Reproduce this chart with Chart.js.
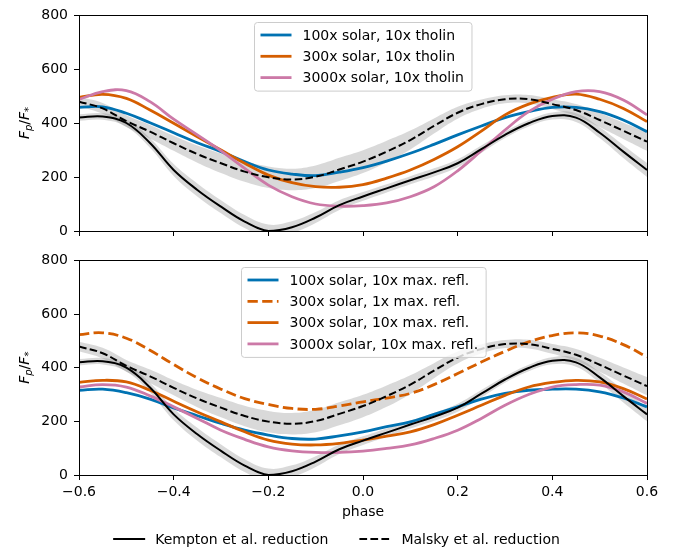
<!DOCTYPE html>
<html>
<head>
<meta charset="utf-8">
<script src="https://cdn.jsdelivr.net/npm/chart.js@4.4.0/dist/chart.umd.min.js"></script>
<style>
  body { margin: 0; background: #fff; }
  #wrap { position: relative; width: 673px; height: 550px; }
  #topChart { position: absolute; left: 0; top: 0; width: 673px; height: 246px; }
  #bottomChart { position: absolute; left: 0; top: 246px; width: 673px; height: 304px; }
</style>
</head>
<body>
<div id="wrap">
  <canvas id="topChart" width="673" height="246"></canvas>
  <canvas id="bottomChart" width="673" height="304"></canvas>
</div>
<script>
// orbital phase grid shared by every curve
var phase = [-0.6, -0.55, -0.5, -0.45, -0.4, -0.35, -0.3, -0.25, -0.2, -0.15, -0.1, -0.05,
  0, 0.05, 0.1, 0.15, 0.2, 0.25, 0.3, 0.35, 0.4, 0.45, 0.5, 0.55, 0.6]
var phaseTicks = [-0.6, -0.4, -0.2, 0, 0.2, 0.4, 0.6]
var fluxTicks = [0, 200, 400, 600, 800]

// observed phase curves (two reductions) and their 1-sigma widths
var kempton = [420, 424, 400, 326, 226, 152, 90, 35, 0, 14, 50, 96,
  128, 158, 188, 217, 251, 303, 356, 399, 426, 420, 364, 294, 226]
var kemptonErr = [12, 12, 14, 18, 22, 24, 24, 24, 24, 22, 20, 18,
  16, 15, 15, 15, 15, 14, 12, 12, 13, 16, 20, 24, 26]
var malsky = [479, 454, 407, 368, 325, 285, 251, 220, 199, 191, 201, 228,
  257, 294, 337, 389, 438, 470, 488, 488, 470, 448, 411, 371, 331]
var malskyErr = [18, 20, 22, 25, 28, 32, 36, 38, 40, 40, 42, 43,
  42, 40, 35, 28, 22, 17, 15, 16, 18, 22, 26, 30, 34]

// models with 10x tholin hazes
var tholin100 = [458, 460, 436, 401, 364, 327, 294, 257, 226, 211, 205, 218,
  235, 259, 288, 321, 356, 389, 420, 442, 458, 458, 442, 411, 368]
var tholin300 = [495, 506, 491, 448, 399, 349, 300, 251, 207, 179, 164, 162,
  172, 196, 226, 265, 312, 370, 430, 470, 495, 507, 488, 454, 405]
var tholin3000 = [487, 516, 520, 479, 414, 356, 297, 232, 170, 127, 100, 92,
  94, 104, 127, 164, 223, 297, 374, 442, 488, 516, 516, 485, 430]

// models with maximally reflective hazes
var refl100 = [316, 320, 307, 283, 250, 221, 192, 167, 149, 136, 134, 146,
  161, 180, 198, 226, 254, 283, 304, 316, 320, 320, 310, 287, 254]
var refl300x1 = [523, 530, 510, 465, 412, 362, 320, 285, 263, 248, 245, 257,
  273, 287, 304, 337, 378, 421, 461, 496, 520, 530, 518, 486, 440]
var refl300 = [345, 353, 347, 316, 275, 235, 198, 161, 130, 115, 112, 118,
  130, 145, 161, 188, 223, 260, 297, 328, 345, 353, 347, 322, 283]
var refl3000 = [328, 337, 328, 295, 254, 211, 167, 133, 105, 90, 84, 84,
  89, 99, 112, 136, 167, 211, 260, 300, 328, 337, 335, 310, 267]

var blue = '#0072B2'
var orange = '#D55E00'
var pink = '#CC79A7'
var bandColor = 'rgba(130,130,130,0.3)'
var FONT = "'DejaVu Sans'"

Chart.defaults.color = '#000'
Chart.defaults.font.family = FONT
Chart.defaults.font.size = 14

function pts(values) {
  return values.map(function (v, i) {
    return { x: phase[i], y: v }
  })
}

function shifted(values, err, sign) {
  return values.map(function (v, i) {
    return { x: phase[i], y: v + sign * err[i] }
  })
}

// grey uncertainty bands go first so '+1' fills point at their lower edge
function bandSets() {
  return [
    { data: shifted(kempton, kemptonErr, 1), fill: '+1', backgroundColor: bandColor, borderWidth: 0, order: 20 },
    { data: shifted(kempton, kemptonErr, -1), fill: false, borderWidth: 0, order: 20 },
    { data: shifted(malsky, malskyErr, 1), fill: '+1', backgroundColor: bandColor, borderWidth: 0, order: 20 },
    { data: shifted(malsky, malskyErr, -1), fill: false, borderWidth: 0, order: 20 },
  ]
}

function refSets() {
  return [
    { label: 'Kempton et al. reduction', data: pts(kempton), borderColor: '#000', borderWidth: 2, fill: false, order: 1 },
    { label: 'Malsky et al. reduction', data: pts(malsky), borderColor: '#000', borderWidth: 2, borderDash: [7.7, 3.3], fill: false, order: 1 },
  ]
}

function modelLine(label, values, color, order, dash) {
  return {
    label: label,
    data: pts(values),
    borderColor: color,
    borderWidth: 2.8,
    borderDash: dash || [],
    fill: false,
    order: order,
    legendRow: true,
  }
}

function fmtPhase(v) {
  var s = Math.abs(v).toFixed(1)
  return v < -1e-9 ? '\u2212' + s : s
}

// F_p/F_* with italic F's and small subscripts, rotated along the axis
function drawYLabel(ctx, x, y) {
  var parts = [
    ['F', 'italic 14px ' + FONT, 0],
    ['p', 'italic 10px ' + FONT, 3],
    ['/', '14px ' + FONT, 0],
    ['F', 'italic 14px ' + FONT, 0],
    ['*', '10px ' + FONT, 3],
  ]
  var total = 0
  parts.forEach(function (p) {
    ctx.font = p[1]
    p.push(ctx.measureText(p[0]).width)
    total += p[3]
  })
  ctx.save()
  ctx.translate(x, y)
  ctx.rotate(-Math.PI / 2)
  ctx.fillStyle = '#000'
  ctx.textBaseline = 'alphabetic'
  ctx.textAlign = 'left'
  var cx = -total / 2
  parts.forEach(function (p) {
    ctx.font = p[1]
    ctx.fillText(p[0], cx, p[2])
    cx += p[3]
  })
  ctx.restore()
}

function drawHandle(ctx, x1, x2, y, ds) {
  ctx.save()
  ctx.strokeStyle = ds.borderColor
  ctx.lineWidth = ds.borderWidth
  ctx.setLineDash(ds.borderDash || [])
  ctx.beginPath()
  ctx.moveTo(x1, y)
  ctx.lineTo(x2, y)
  ctx.stroke()
  ctx.restore()
}

// framed legend at the upper centre of the axes
function drawBoxLegend(chart) {
  var ctx = chart.ctx
  var area = chart.chartArea
  var sets = chart.data.datasets.filter(function (d) { return d.legendRow })
  ctx.save()
  ctx.font = '14px ' + FONT
  var textW = 0
  sets.forEach(function (d) {
    textW = Math.max(textW, ctx.measureText(d.label).width)
  })
  var pad = 6, handle = 31, gap = 11, rowH = 21.3
  var w = pad + handle + gap + textW + pad + 2
  var h = 12.5 + (sets.length - 1) * rowH + 13.5
  var left = Math.round((area.left + area.right) / 2 - w / 2) + 0.5
  var top = Math.round(area.top + 7) + 0.5
  ctx.beginPath()
  ctx.roundRect(left, top, w, h, 3)
  ctx.fillStyle = 'rgba(255,255,255,0.8)'
  ctx.fill()
  ctx.strokeStyle = '#cccccc'
  ctx.lineWidth = 1
  ctx.stroke()
  sets.forEach(function (d, i) {
    var y = top + 12.5 + i * rowH
    drawHandle(ctx, left + pad, left + pad + handle, y, d)
    ctx.fillStyle = '#000'
    ctx.textBaseline = 'middle'
    ctx.textAlign = 'left'
    ctx.fillText(d.label, left + pad + handle + gap, y + 1)
  })
  ctx.restore()
}

// x title and the legend for the two reductions, under the lower panel
function drawFooter(chart) {
  var ctx = chart.ctx
  var area = chart.chartArea
  var refs = chart.data.datasets.filter(function (d) { return d.label && !d.legendRow })
  ctx.save()
  ctx.font = '14px ' + FONT
  ctx.fillStyle = '#000'
  ctx.textBaseline = 'middle'
  ctx.textAlign = 'center'
  ctx.fillText('phase', (area.left + area.right) / 2, area.bottom + 37)

  var handle = 32, gap = 10, colGap = 31
  var total = 0
  refs.forEach(function (d, i) {
    total += handle + gap + ctx.measureText(d.label).width + (i ? colGap : 0)
  })
  var x = chart.width / 2 - total / 2
  var y = area.bottom + 64
  ctx.textAlign = 'left'
  refs.forEach(function (d) {
    drawHandle(ctx, x, x + handle, y, d)
    ctx.fillStyle = '#000'
    ctx.fillText(d.label, x + handle + gap, y + 1)
    x += handle + gap + ctx.measureText(d.label).width + colGap
  })
  ctx.restore()
}

var panelDecor = {
  id: 'panelDecor',
  afterDatasetsDraw: function (chart, args, opts) {
    var ctx = chart.ctx
    var a = chart.chartArea
    ctx.save()
    ctx.strokeStyle = '#000'
    ctx.lineWidth = 1
    ctx.strokeRect(Math.round(a.left) + 0.5, Math.round(a.top) + 0.5,
      Math.round(a.right - a.left), Math.round(a.bottom - a.top))
    ctx.restore()
    drawYLabel(ctx, 29, (a.top + a.bottom) / 2)
    drawBoxLegend(chart)
    if (opts.footer) drawFooter(chart)
  },
}

function makeOptions(showTickLabels, padTop, xHeight, footer) {
  return {
    responsive: false,
    animation: false,
    layout: { padding: { top: padTop, right: 26, left: 0, bottom: 0 } },
    elements: {
      point: { radius: 0 },
      line: { tension: 0.4 },
    },
    scales: {
      x: {
        type: 'linear',
        min: -0.6,
        max: 0.6,
        afterBuildTicks: function (scale) {
          scale.ticks = phaseTicks.map(function (v) { return { value: v } })
        },
        afterFit: function (scale) { scale.height = xHeight },
        ticks: {
          display: showTickLabels,
          padding: 4,
          maxRotation: 0,
          callback: function (v) { return fmtPhase(v) },
        },
        grid: { drawOnChartArea: false, tickLength: 5, tickColor: '#000', tickWidth: 1 },
        border: { color: '#000', width: 1 },
      },
      y: {
        min: 0,
        max: 800,
        afterBuildTicks: function (scale) {
          scale.ticks = fluxTicks.map(function (v) { return { value: v } })
        },
        afterFit: function (scale) { scale.width = 79 },
        ticks: { padding: 6 },
        grid: { drawOnChartArea: false, tickLength: 5, tickColor: '#000', tickWidth: 1 },
        border: { color: '#000', width: 1 },
      },
    },
    plugins: {
      legend: { display: false },
      tooltip: { enabled: false },
      filler: { drawTime: 'beforeDatasetsDraw' },
      panelDecor: { footer: footer },
    },
  }
}

new Chart(document.getElementById('topChart'), {
  type: 'line',
  data: {
    datasets: bandSets().concat([
      modelLine('100x solar, 10x tholin', tholin100, blue, 5),
      modelLine('300x solar, 10x tholin', tholin300, orange, 4),
      modelLine('3000x solar, 10x tholin', tholin3000, pink, 3),
    ], refSets()),
  },
  options: makeOptions(false, 15, 15, false),
  plugins: [panelDecor],
})

new Chart(document.getElementById('bottomChart'), {
  type: 'line',
  data: {
    datasets: bandSets().concat([
      modelLine('100x solar, 10x max. refl.', refl100, blue, 6),
      modelLine('300x solar, 1x max. refl.', refl300x1, orange, 5, [10.3, 4.4]),
      modelLine('300x solar, 10x max. refl.', refl300, orange, 4),
      modelLine('3000x solar, 10x max. refl.', refl3000, pink, 3),
    ], refSets()),
  },
  options: makeOptions(true, 14, 75, true),
  plugins: [panelDecor],
})
</script>
</body>
</html>
